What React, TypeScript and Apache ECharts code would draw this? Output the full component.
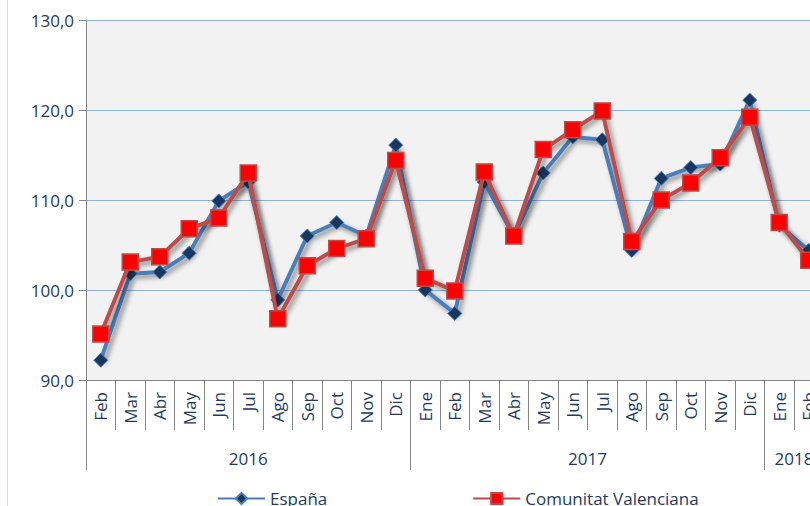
import React, { useEffect, useRef } from "react";
import * as echarts from "echarts";

const months = ["Feb","Mar","Abr","May","Jun","Jul","Ago","Sep","Oct","Nov","Dic","Ene","Feb","Mar","Abr","May","Jun","Jul","Ago","Sep","Oct","Nov","Dic","Ene","Feb"];
const years = ["2016", "2017", "2018"];
const yearCounts = [11, 12, 2];
const espana = [92.2,101.8,102.0,104.1,109.9,112.0,98.9,106.0,107.5,106.0,116.1,100.0,97.4,112.0,106.0,113.0,117.0,116.7,104.4,112.4,113.6,114.0,121.1,107.2,104.4];
const valenciana = [95.1,103.1,103.7,106.8,108.0,113.0,96.8,102.7,104.6,105.7,114.4,101.3,99.9,113.1,106.0,115.6,117.8,119.9,105.4,110.0,111.9,114.7,119.2,107.5,103.3];
const yTicks = { min: 90, max: 130, interval: 10 };

const FONT = "'Open Sans', sans-serif";
const TEXT = "#1f3b5c";
const GREY = "#868686";

export default function App() {
  const ref = useRef<HTMLDivElement>(null);
  useEffect(() => {
    if (!ref.current) return;
    const chart = echarts.init(ref.current, undefined, { renderer: "svg" });
    const boundaries: number[] = [0];
    const centers: number[] = [];
    const centerLabel: Record<string, string> = {};
    let acc = 0;
    yearCounts.forEach((c, i) => {
      const ctr = acc + c / 2;
      centers.push(ctr);
      centerLabel[String(ctr)] = years[i];
      acc += c;
      boundaries.push(acc);
    });
    const shadow = { shadowColor: "rgba(0,0,0,0.45)", shadowBlur: 5, shadowOffsetX: 3, shadowOffsetY: 3 };
    chart.setOption({
      animation: false,
      backgroundColor: "#ffffff",
      textStyle: { fontFamily: FONT },
      graphic: [
        { type: "line", shape: { x1: 7.5, y1: 0, x2: 7.5, y2: 506 }, style: { stroke: "#d9d9d9", lineWidth: 1 } },
      ],
      grid: { left: 86, right: 6.5, top: 20, bottom: 126, show: true, backgroundColor: "#f2f2f2", borderWidth: 0 },
      legend: {
        left: 212,
        top: 485,
        itemGap: 145,
        itemWidth: 47,
        itemHeight: 14,
        textStyle: { color: TEXT, fontSize: 17, fontFamily: FONT },
        data: ["España", "Comunitat Valenciana"],
      },
      xAxis: [
        {
          type: "category",
          data: months,
          boundaryGap: true,
          axisLine: { show: true, lineStyle: { color: GREY, width: 1 } },
          axisTick: { show: true, length: 50, interval: 0, lineStyle: { color: GREY } },
          axisLabel: { interval: 0, rotate: 90, margin: 12, color: TEXT, fontSize: 17, fontFamily: FONT },
          splitLine: { show: false },
        },
        {
          type: "value",
          min: 0,
          max: months.length,
          position: "bottom",
          axisLine: { show: false },
          axisTick: { show: true, length: 90, customValues: boundaries, lineStyle: { color: GREY } },
          axisLabel: {
            customValues: centers,
            margin: 70,
            color: TEXT,
            fontSize: 17,
            fontFamily: FONT,
            formatter: (v: number) => centerLabel[String(v)] ?? "",
          },
          splitLine: { show: false },
        },
      ],
      yAxis: {
        type: "value",
        min: yTicks.min,
        max: yTicks.max,
        interval: yTicks.interval,
        axisLine: { show: true, lineStyle: { color: GREY } },
        axisTick: { show: true, length: 7, lineStyle: { color: GREY } },
        axisLabel: {
          margin: 12,
          color: TEXT,
          fontSize: 17,
          fontFamily: FONT,
          formatter: (v: number) => v.toFixed(1).replace(".", ","),
        },
        splitLine: { show: true, lineStyle: { color: "#8db3e2", width: 1 } },
      },
      series: [
        {
          name: "España",
          type: "line",
          data: espana,
          xAxisIndex: 0,
          symbol: "diamond",
          symbolSize: 14,
          lineStyle: { color: "#4a7ebb", width: 4, ...shadow },
          itemStyle: { color: "#17375e", borderColor: "#4a7ebb", borderWidth: 1 },
          z: 2,
        },
        {
          name: "Comunitat Valenciana",
          type: "line",
          data: valenciana,
          xAxisIndex: 0,
          symbol: "rect",
          symbolSize: 16,
          lineStyle: { color: "#be4b48", width: 4, ...shadow },
          itemStyle: { color: "#ff0000", borderColor: "#be4b48", borderWidth: 1.5 },
          z: 3,
        },
      ],
    });
    return () => chart.dispose();
  }, []);
  return (
    <div style={{ position: "fixed", left: 0, top: 0, width: 810, height: 506, overflow: "hidden", background: "#fff" }}>
      <div ref={ref} style={{ width: 830, height: 506 }} />
    </div>
  );
}
